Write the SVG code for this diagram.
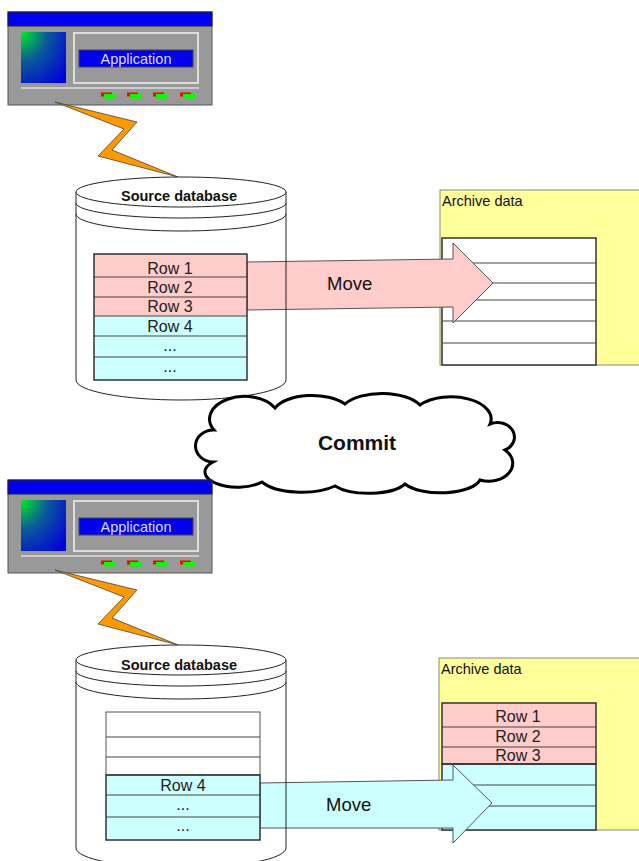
<svg xmlns="http://www.w3.org/2000/svg" xmlns:xlink="http://www.w3.org/1999/xlink" width="639" height="861" viewBox="0 0 639 861">
<style>
text{font-family:"Liberation Sans",Arial,sans-serif;}
.lbl{font-size:16px;fill:#222;text-anchor:middle;}
.dbt{font-size:14.5px;font-weight:bold;fill:#111;text-anchor:middle;}
.arch{fill:#ffff99;stroke:#888;stroke-width:1;}
.tbl{fill:#fff;stroke:#333;stroke-width:1.5;}
.ln{stroke:#444;stroke-width:1;}
.pink{fill:#ffcccc;}
.cyan{fill:#ccffff;}
.cyl{fill:none;stroke:#222;stroke-width:1;}
.bolt{fill:#ff9900;stroke:#444;stroke-width:0.8;}
.mv{font-size:18.5px;fill:#111;}
.ad{font-size:14.5px;fill:#111;}
</style>
<defs>
<radialGradient id="grad" cx="0" cy="0" r="1.3" gradientUnits="objectBoundingBox">
<stop offset="0" stop-color="#00ee22"/>
<stop offset="0.45" stop-color="#0a5a99"/>
<stop offset="1" stop-color="#0000dd"/>
</radialGradient>
<g id="appwin">
<rect x="8" y="12" width="204" height="93" fill="#999" stroke="#555" stroke-width="1"/>
<rect x="8" y="12" width="204" height="14" fill="#0000ee" stroke="#222" stroke-width="1"/>
<rect x="21" y="32" width="45" height="51" fill="url(#grad)"/>
<rect x="74" y="33" width="124" height="50" fill="none" stroke="#ddd" stroke-width="2"/>
<rect x="79" y="50" width="114" height="17" fill="#0000ee" stroke="#444" stroke-width="1"/>
<text x="136" y="63.5" style="font-size:14.5px;fill:#ddddff;text-anchor:middle;">Application</text>
<line x1="21" y1="88" x2="199" y2="88" stroke="#ccc" stroke-width="2"/>
<g>
<rect x="101" y="92.5" width="11" height="4" fill="#ff0000"/>
<rect x="104" y="94" width="12" height="4.5" fill="#00ff00"/>
<rect x="127" y="92.5" width="11" height="4" fill="#ff0000"/>
<rect x="130" y="94" width="12" height="4.5" fill="#00ff00"/>
<rect x="153" y="92.5" width="11" height="4" fill="#ff0000"/>
<rect x="156" y="94" width="12" height="4.5" fill="#00ff00"/>
<rect x="180" y="92.5" width="11" height="4" fill="#ff0000"/>
<rect x="183" y="94" width="12" height="4.5" fill="#00ff00"/>
</g>
</g>
</defs>

<!-- ===== Top scene ===== -->
<g id="app-top"><use xlink:href="#appwin"/></g>
<g id="connectors-top">
<polygon class="bolt" points="55,102 137,122 112,150 178,177 98,156 124,129"/>
</g>
<g id="archive-top">
<rect class="arch" x="440" y="190" width="210" height="175"/>
<text class="ad" x="442" y="206">Archive data</text>
<rect class="tbl" x="442" y="238" width="154" height="127"/>
<line class="ln" x1="442" y1="263" x2="596" y2="263"/>
<line class="ln" x1="442" y1="283" x2="596" y2="283"/>
<line class="ln" x1="442" y1="300" x2="596" y2="300"/>
<line class="ln" x1="442" y1="321" x2="596" y2="321"/>
<line class="ln" x1="442" y1="343" x2="596" y2="343"/>
</g>
<g id="db-top">
<path d="M76,192 L76,380 A105,20 0 0 0 286,380 L286,192 Z" fill="#fff"/>
</g>
<g id="move-top">
<polygon points="247,262 453,259 453,243 493,283 453,323 453,307 247,310" fill="#ffcccc" stroke="#555" stroke-width="1"/>
<text class="mv" x="327" y="290">Move</text>
</g>
<g id="db-top-outline">
<path class="cyl" d="M76,192 L76,380 A105,20 0 0 0 286,380 L286,192"/>
<ellipse cx="181" cy="192" rx="105" ry="15" fill="#fff" stroke="#222" stroke-width="1"/>
<path class="cyl" d="M76,203 A105,15 0 0 0 286,203"/>
<path class="cyl" d="M76,214 A105,17 0 0 0 286,214"/>
<text class="dbt" x="179" y="200.5">Source database</text>
<rect class="pink" x="94" y="254" width="153" height="62"/>
<rect class="cyan" x="94" y="316" width="153" height="64"/>
<line class="ln" x1="94" y1="277" x2="247" y2="277"/>
<line class="ln" x1="94" y1="297" x2="247" y2="297"/>
<line class="ln" x1="94" y1="316" x2="247" y2="316" stroke-width="1.5"/>
<line class="ln" x1="94" y1="336" x2="247" y2="336"/>
<line class="ln" x1="94" y1="357" x2="247" y2="357"/>
<rect x="94" y="254" width="153" height="126" fill="none" stroke="#333" stroke-width="1.5"/>
<text class="lbl" x="170" y="274">Row 1</text>
<text class="lbl" x="170" y="293">Row 2</text>
<text class="lbl" x="170" y="312">Row 3</text>
<text class="lbl" x="170" y="332">Row 4</text>
<text class="lbl" x="170" y="351">...</text>
<text class="lbl" x="170" y="372">...</text>
</g>

<!-- ===== Commit cloud ===== -->
<g id="commit">
<path d="M213,462 A18,16 0 0 1 214,430 A34,22 0 0 1 275,408 A40,20 0 0 1 345,404 A42,20 0 0 1 420,405 A40,22 0 0 1 490,424 A14,12 0 0 1 505,450 A24,18 0 0 1 480,480 A40,16 0 0 1 405,484 A40,16 0 0 1 335,486 A44,18 0 0 1 262,482 A30,14 0 0 1 213,462 Z" fill="#fff" stroke="#000" stroke-width="3"/>
<text x="357" y="450" style="font-size:21px;font-weight:bold;fill:#111;text-anchor:middle;">Commit</text>
</g>

<!-- ===== Bottom scene ===== -->
<g id="app-bottom"><use xlink:href="#appwin" transform="translate(0,468)"/></g>
<g id="connectors-bottom">
<polygon class="bolt" points="55,570 137,590 112,618 178,645 98,624 124,597"/>
</g>
<g id="archive-bottom">
<rect class="arch" x="439" y="658" width="210" height="172"/>
<text class="ad" x="441" y="674">Archive data</text>
<rect class="pink" x="442" y="703" width="154" height="61"/>
<rect class="cyan" x="442" y="764" width="154" height="66"/>
<line class="ln" x1="442" y1="727" x2="596" y2="727"/>
<line class="ln" x1="442" y1="747" x2="596" y2="747"/>
<line class="ln" x1="442" y1="785" x2="596" y2="785"/>
<line class="ln" x1="442" y1="806" x2="596" y2="806"/>
<rect x="442" y="703" width="154" height="61" fill="none" stroke="#333" stroke-width="1.5"/>
<rect x="442" y="764" width="154" height="66" fill="none" stroke="#333" stroke-width="1.5"/>
<text class="lbl" x="518" y="722">Row 1</text>
<text class="lbl" x="518" y="742">Row 2</text>
<text class="lbl" x="518" y="761">Row 3</text>
</g>
<g id="db-bottom">
<path d="M76,660 L76,848 A105,20 0 0 0 286,848 L286,660 Z" fill="#fff"/>
</g>
<g id="move-bottom">
<polygon points="260,783 453,780 453,765 492,803 453,843 453,828 260,828" fill="#ccffff" stroke="#555" stroke-width="1"/>
<text class="mv" x="326" y="811">Move</text>
</g>
<g id="db-bottom-outline">
<path class="cyl" d="M76,660 L76,848 A105,20 0 0 0 286,848 L286,660"/>
<ellipse cx="181" cy="660" rx="105" ry="15" fill="#fff" stroke="#222" stroke-width="1"/>
<path class="cyl" d="M76,671 A105,15 0 0 0 286,671"/>
<path class="cyl" d="M76,682 A105,17 0 0 0 286,682"/>
<text class="dbt" x="179" y="669.5">Source database</text>
<rect x="106" y="712" width="154" height="63" fill="#fff"/>
<rect class="cyan" x="106" y="775" width="154" height="65"/>
<line class="ln" x1="106" y1="737" x2="260" y2="737"/>
<line class="ln" x1="106" y1="757" x2="260" y2="757"/>
<line class="ln" x1="106" y1="795" x2="260" y2="795"/>
<line class="ln" x1="106" y1="817" x2="260" y2="817"/>
<rect x="106" y="712" width="154" height="63" fill="none" stroke="#555" stroke-width="1"/>
<rect x="106" y="775" width="154" height="65" fill="none" stroke="#333" stroke-width="1.5"/>
<text class="lbl" x="183" y="791">Row 4</text>
<text class="lbl" x="183" y="810">...</text>
<text class="lbl" x="183" y="831">...</text>
</g>
</svg>
